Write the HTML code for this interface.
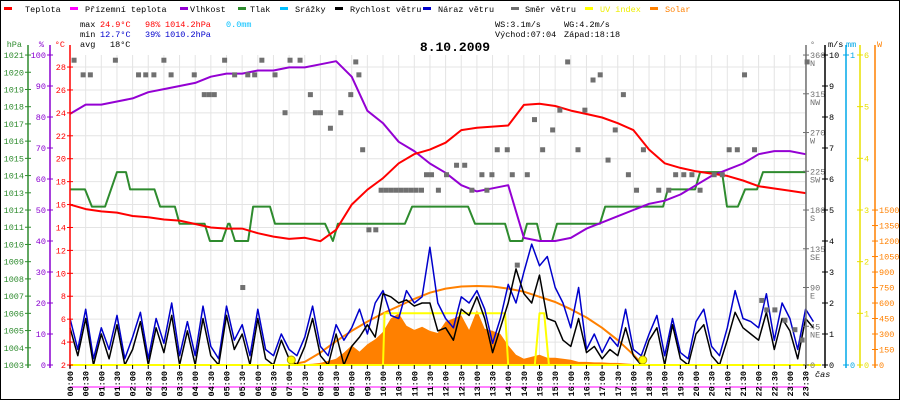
<!DOCTYPE html>
<html><head><meta charset="utf-8"><style>
html,body{margin:0;padding:0;background:#fff;}
svg{display:block;font-family:"Liberation Mono",monospace;}
</style></head><body>
<svg id="chart" width="900" height="400" viewBox="0 0 900 400" xmlns="http://www.w3.org/2000/svg">
<rect x="0.5" y="0.5" width="899" height="399" fill="#fff" stroke="#000"/>
<g id="legend" font-size="8.5">
 <g><rect x="4" y="7" width="8" height="3" fill="#f00"/><text x="25" y="12">Teplota</text></g>
 <g><rect x="70" y="7" width="8" height="3" fill="#f0f"/><text x="85" y="12">Přízemní teplota</text></g>
 <g><rect x="180" y="7" width="8" height="3" fill="#9400d3"/><text x="190" y="12">Vlhkost</text></g>
 <g><rect x="238" y="7" width="8" height="3" fill="#2e8b2e"/><text x="250" y="12">Tlak</text></g>
 <g><rect x="280" y="7" width="8" height="3" fill="#00bfff"/><text x="295" y="12">Srážky</text></g>
 <g><rect x="335" y="7" width="8" height="3" fill="#000"/><text x="350" y="12">Rychlost větru</text></g>
 <g><rect x="423" y="7" width="8" height="3" fill="#0000cc"/><text x="438" y="12">Náraz větru</text></g>
 <g><rect x="511" y="7" width="8" height="3" fill="#707070"/><text x="525" y="12">Směr větru</text></g>
 <g><rect x="585" y="7" width="8" height="3" fill="#ff0"/><text x="600" y="12" fill="#ee0">UV index</text></g>
 <g><rect x="650" y="7" width="8" height="3" fill="#ff8000"/><text x="665" y="12" fill="#ff8000">Solar</text></g>
</g>
<g font-size="8.5">
 <text x="80" y="27">max</text><text x="100" y="27" fill="#f00">24.9°C</text><text x="145" y="27" fill="#f00">98%</text><text x="165" y="27" fill="#f00">1014.2hPa</text><text x="226" y="27" fill="#00bfff">0.0mm</text>
 <text x="80" y="37">min</text><text x="100" y="37" fill="#00c">12.7°C</text><text x="145" y="37" fill="#00c">39%</text><text x="165" y="37" fill="#00c">1010.2hPa</text>
 <text x="80" y="47">avg</text><text x="110" y="47">18°C</text>
 <text x="495" y="27">WS:3.1m/s</text><text x="564" y="27">WG:4.2m/s</text>
 <text x="495" y="37">Východ:07:04</text><text x="564" y="37">Západ:18:18</text>
</g>
<text x="455" y="51" text-anchor="middle" font-size="13" font-weight="bold">8.10.2009</text>
<g id="grid"></g>
<g id="marks"></g>
<g id="axes"></g>
</svg>
<script>
// ---- data ----
const halfHourTimes = [0,0.5,1,1.5,2,2.5,3,3.5,4,4.5,5,5.5,6,6.5,7,7.5,8,8.5,9,9.5,10,10.5,11,11.5,12,12.5,13,13.5,14,14.5,15,15.5,16,16.5,17,17.5,18,18.5,19,19.5,20,20.5,21,21.5,22,22.5,23,23.5];
const temperature = [16.0,15.6,15.4,15.3,15.0,14.9,14.7,14.6,14.3,14.0,13.9,13.9,13.5,13.2,13.0,13.1,12.8,13.8,16.0,17.3,18.3,19.6,20.4,20.8,21.4,22.5,22.7,22.8,22.9,24.7,24.8,24.6,24.2,23.9,23.6,23.1,22.5,20.8,19.6,19.2,18.9,18.7,18.5,18.1,17.6,17.4,17.2,17.0];
const humidity = [81,84,84,85,86,88,89,90,91,93,94,94,95,95,96,96,97,98,93,82,78,72,69,65,62,58,56,57,58,41,40,40,41,44,46,48,50,52,53,55,58,61,63,65,68,69,69,68];
const pressureTimes = [0,0.48,0.7,1.12,1.5,1.79,1.92,2.7,2.88,3.35,3.5,4.3,4.47,4.86,5.05,5.1,5.27,5.69,5.85,6.39,6.55,8.15,8.4,8.56,10.7,10.93,12.72,12.94,13.9,14.06,14.45,14.6,14.92,15.05,15.4,15.56,16.93,17.1,18.95,19.1,19.97,20.13,20.83,20.99,21.34,21.57,21.95,22.14,23.5];
const pressure = [1013.2,1013.2,1012.2,1012.2,1014.2,1014.2,1013.2,1013.2,1012.2,1012.2,1011.2,1011.2,1010.2,1010.2,1011.2,1011.2,1010.2,1010.2,1012.2,1012.2,1011.2,1011.2,1010.2,1011.2,1011.2,1012.2,1012.2,1011.2,1011.2,1010.2,1010.2,1011.2,1011.2,1010.2,1010.2,1011.2,1011.2,1012.2,1012.2,1013.2,1013.2,1014.2,1014.2,1012.2,1012.2,1013.2,1013.2,1014.2,1014.2];
const windSpeed = [1.2,0.3,1.5,0.0,1.0,0.2,1.3,0.0,0.5,1.4,0.0,1.2,0.4,1.6,0.0,1.1,0.0,1.5,0.3,0.0,1.6,0.5,1.0,0.0,
 1.5,0.2,0.0,0.8,0.2,0.0,0.6,1.5,0.3,0.0,1.0,0.0,0.6,0.9,1.3,0.9,2.3,2.2,2.0,2.1,1.9,2.0,2.0,1.1,
 1.2,0.8,1.8,1.6,2.2,1.5,0.4,1.2,2.0,3.1,2.3,2.0,2.9,1.5,1.4,0.8,0.6,1.5,0.4,0.6,0.2,0.5,0.3,1.2,
 0.3,0.0,0.8,1.2,0.0,1.3,0.2,0.0,1.0,1.3,0.3,0.0,0.8,1.7,1.2,1.0,0.8,1.7,0.5,1.5,1.1,0.2,1.5,1.2];
const windGust = [1.5,0.5,1.8,0.2,1.2,0.5,1.6,0.2,0.9,1.7,0.2,1.5,0.7,2.0,0.3,1.4,0.3,1.9,0.6,0.2,1.9,0.8,1.3,0.3,
 1.8,0.5,0.3,1.0,0.5,0.3,0.9,1.9,0.6,0.3,1.3,0.8,1.2,1.8,1.0,2.0,2.4,1.6,1.5,2.4,2.0,2.2,3.8,2.0,
 1.5,1.2,2.2,2.0,2.4,1.8,0.7,1.5,2.6,2.0,3.0,3.9,3.2,3.5,2.5,2.0,1.2,2.5,0.5,1.0,0.4,0.9,0.6,1.8,
 0.5,0.3,1.0,1.6,0.3,1.5,0.4,0.2,1.4,1.8,0.6,0.3,1.2,2.4,1.5,1.4,1.2,2.3,0.8,2.0,1.5,0.5,1.8,1.4];
const dirTimes = [0.13,0.42,0.65,1.45,2.19,2.42,2.68,3.0,3.23,3.97,4.29,4.45,4.61,4.94,5.26,5.52,5.68,5.9,6.13,6.55,6.87,7.03,7.35,7.68,7.84,8.0,8.32,8.65,8.97,9.13,9.23,9.35,9.55,9.77,9.94,10.1,10.26,10.42,10.58,10.74,10.9,11.06,11.23,11.39,11.55,11.77,12.03,12.35,12.61,12.84,13.16,13.32,13.48,13.65,13.97,14.13,14.29,14.61,14.84,15.1,15.42,15.65,15.9,16.23,16.45,16.71,16.94,17.19,17.42,17.68,17.84,18.1,18.32,18.81,19.13,19.35,19.61,19.87,20.13,20.58,20.84,21.06,21.32,21.55,21.87,22.1,22.26,22.52,22.84,23.16,23.39,23.55];
const windDir = [354,337,337,354,337,337,337,354,337,337,314,314,314,354,337,90,337,337,354,337,293,354,354,314,293,293,275,293,314,352,337,250,157,157,203,203,203,203,203,203,203,203,203,221,221,203,221,232,232,203,221,203,221,250,250,221,116,221,285,250,273,296,352,250,296,331,337,238,273,314,221,203,250,203,203,221,221,221,203,221,221,250,250,337,250,75,64,64,52,41,29,352];
const solarTimes = [7,7.25,7.5,7.75,8,8.25,8.5,8.75,9,9.25,9.5,9.75,10,10.25,10.5,10.75,11,11.25,11.5,11.75,12,12.25,12.5,12.75,13,13.25,13.5,13.75,14,14.25,14.5,14.75,15,15.25,15.5,15.75,16,16.25,16.5,16.75,17,17.25,17.5,17.75,18,18.25,18.5,18.75,19];
const solar = [0,3,8,12,20,40,60,120,190,130,200,250,320,450,500,380,340,370,330,310,420,450,480,340,530,350,330,300,190,100,60,80,100,70,70,60,50,30,30,25,25,20,20,15,10,10,5,3,0];
const solarMaxTimes = [7,7.5,8,8.5,9,9.5,10,10.5,11,11.5,12,12.5,13,13.5,14,14.5,15,15.5,16,16.5,17,17.5,18,18.3];
const solarMax = [0,30,120,230,330,420,500,570,640,700,740,760,765,760,740,710,660,610,540,460,360,240,100,0];
const uvTimes = [0,10,10.05,13.9,14,14.85,15.0,15.15,15.3,24];
const uvIndex = [0,0,1,1,0,0,1,1,0,0];
const sunEvents = [7.07,18.3];
const hpaTicks = [1003,1004,1005,1006,1007,1008,1009,1010,1011,1012,1013,1014,1015,1016,1017,1018,1019,1020,1021];
const humTicks = [0,10,20,30,40,50,60,70,80,90,100];
const tempTicks = [2,4,6,8,10,12,14,16,18,20,22,24,26,28];
const dirTicks = [0,45,90,135,180,225,270,315,360];
const dirNames = ['','NE','E','SE','S','SW','W','NW','N'];
const windTicks = [0,1,2,3,4,5,6,7,8,9,10];
const uvTicks = [0,1,2,3,4,5,6];
const solarTicks = [0,150,300,450,600,750,900,1050,1200,1350,1500];

// ---- scales ----
const X = t => 70 + t*31.3;
const yT = v => 365 - (v-2)*11.46;
const yH = v => 365 - v*3.1;
const yP = v => 365 - (v-1003)*17.22;
const yD = v => 365 - v*0.861;
const yW = v => 365 - v*31;
const yS = v => 365 - v*0.1033;
const yU = v => 365 - v*51.67;
const NS = 'http://www.w3.org/2000/svg';
function mk(parent, tag, attrs, text){const e=document.createElementNS(NS,tag);for(const k in attrs)e.setAttribute(k,attrs[k]);if(text!==undefined)e.textContent=text;parent.appendChild(e);return e;}
const grid=document.getElementById('grid'), marks=document.getElementById('marks'), axes=document.getElementById('axes');

for(let i=0;i<48;i++){const l=mk(grid,'line',{x1:X(i/2),x2:X(i/2),y1:55,y2:365,stroke:'#e4e4e4'});

}
tempTicks.forEach(v=>{const l=mk(grid,'line',{x1:70,x2:806,y1:yT(v),y2:yT(v),stroke:'#e4e4e4'});

});

function poly(xs, ys, color, w, name){
  const pts = xs.map((x,i)=>x.toFixed(1)+','+ys[i].toFixed(1)).join(' ');
  const p = mk(marks,'polyline',{points:pts,fill:'none',stroke:color,'stroke-width':w,'stroke-linejoin':'round'});
  
  
  return p;
}
{
  const pts = [X(solarTimes[0])+','+yS(0)].concat(solarTimes.map((t,i)=>X(t).toFixed(1)+','+yS(solar[i]).toFixed(1))).concat([X(solarTimes[solarTimes.length-1])+','+yS(0)]);
  const a = mk(marks,'polygon',{points:pts.join(' '),fill:'#ff8000'});
  
  
}
poly(solarMaxTimes.map(X), solarMax.map(yS), '#ff8000', 2, 'solar-max-line');
{const r=mk(marks,'line',{x1:X(11),x2:X(14.7),y1:365,y2:365,stroke:'#00bfff','stroke-width':2});

}
{
  const xs=[],ys=[];uvTimes.forEach((t,i)=>{xs.push(X(t));ys.push(yU(uvIndex[i]));});
  poly(xs, ys, '#ffff00', 2, 'uv-index-line');
}
poly(pressureTimes.map(X), pressure.map(yP), '#2e8b2e', 2, 'pressure-line');
poly(halfHourTimes.map(X), humidity.map(yH), '#9400d3', 2, 'humidity-line');
poly(halfHourTimes.map(X), temperature.map(yT), '#ff0000', 2, 'temperature-line');
const qt = windSpeed.map((v,i)=>X(i*0.25));
poly(qt, windGust.map(yW), '#0000cc', 1.5, 'wind-gust-line');
poly(qt, windSpeed.map(yW), '#000000', 1.5, 'wind-speed-line');
dirTimes.forEach((t,i)=>{
  const s = mk(marks,'rect',{x:X(t)-2.5,y:yD(windDir[i])-2.5,width:5,height:5,fill:'#707070'});
  
  
});
sunEvents.forEach(t=>{
  const c = mk(marks,'circle',{cx:X(t),cy:360,r:4,fill:'#ffff00',stroke:'#b0a000'});
  
  
});
{const b=mk(marks,'line',{x1:70,x2:806,y1:365,y2:365,stroke:'#ffff00','stroke-width':2});

}
{const m=mk(marks,'line',{x1:70,x2:806,y1:387,y2:387,stroke:'#f0f','stroke-width':1});

}

function vaxis(x, color, ticks, yf, labels, side, name, title, tx){
  const g = mk(axes,'g',{fill:color,'font-size':'8.5'});
  
  
  mk(g,'line',{x1:x,x2:x,y1:45,y2:368,stroke:color,'stroke-width':1.5});
  mk(g,'text',{x:tx,y:47,'text-anchor':side<0?'end':'start'},title);
  ticks.forEach((v,i)=>{
    const y=yf(v);
    mk(g,'line',{x1:x-3,x2:x+3,y1:y,y2:y,stroke:color});
    mk(g,'text',{x:side<0?x-4:x+4,y:y+3,'text-anchor':side<0?'end':'start'},labels?labels[i]:String(v));
  });
  return g;
}
vaxis(28,'#2e8b2e',hpaTicks,yP,null,-1,'hpa-axis','hPa',22);
vaxis(50,'#8a00d0',humTicks,yH,null,-1,'humidity-axis','%',44);
vaxis(70,'#ff0000',tempTicks,yT,null,-1,'temperature-axis','°C',65);
{
  const g=vaxis(806,'#707070',dirTicks,yD,dirTicks.map(String),1,'direction-axis','°',810);
  dirTicks.forEach((v,i)=>{ if(dirNames[i]) mk(g,'text',{x:810,y:yD(v)+11},dirNames[i]); });
}
vaxis(825,'#000000',windTicks,yW,null,1,'wind-axis','m/s',828);
vaxis(846,'#00a8e8',[0,1],v=>365-v*310,null,1,'rain-axis','mm',846);
vaxis(860,'#e8e000',uvTicks,yU,null,1,'uv-axis','',862);
vaxis(875,'#ff8000',solarTicks,yS,null,1,'solar-axis','W',877);
{
  const g=mk(axes,'g',{'font-size':'8.5','font-weight':'bold'});
  
  
  halfHourTimes.forEach(t=>{
    const h=Math.floor(t), m=t%1?'30':'00';
    const lab=(h<10?'0':'')+h+':'+m;
    const x=X(t);
    mk(g,'line',{x1:x,x2:x,y1:365,y2:369,stroke:'#000'});
    mk(g,'text',{transform:`translate(${x+3},371) rotate(-90)`,'text-anchor':'end'},lab);
  });
  mk(g,'text',{x:815,y:377,'font-weight':'normal','font-style':'italic'},'čas');
}
</script>
</body></html>
